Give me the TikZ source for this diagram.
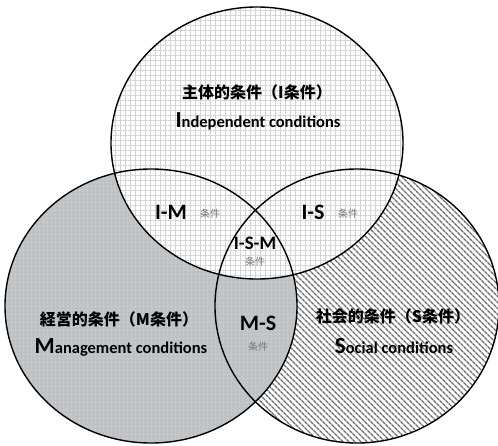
\documentclass[tikz,border=0pt]{standalone}
\usepackage{fontspec}
\setmainfont{Carlito}
\newfontfamily\cjk{Noto Sans CJK JP}
\usetikzlibrary{shapes.geometric,patterns.meta}
\definecolor{mgray}{RGB}{192,195,198}
\definecolor{mdot}{RGB}{214,216,219}
\definecolor{gridc}{RGB}{212,212,212}
\definecolor{hatchc}{RGB}{110,110,110}
\definecolor{subc}{RGB}{120,120,120}
\tikzset{
  setcircle/.style={ellipse, inner sep=0pt, minimum width=#1},
  outline/.style={draw=black, line width=1.4pt},
  titlecjk/.style={font=\cjk\bfseries\fontsize{16}{16}\selectfont, inner sep=0pt},
  titleen/.style={font=\bfseries, inner sep=0pt},
  ovl/.style={font=\bfseries\fontsize{22}{22}\selectfont, inner sep=0pt},
  sub/.style={font=\cjk\fontsize{10}{10}\selectfont, text=subc, inner sep=0pt},
}
\newcommand{\capsz}{\fontsize{23}{23}\selectfont}
\newcommand{\lowsz}{\fontsize{16.5}{16.5}\selectfont}
\begin{document}
\begin{tikzpicture}[x=1pt,y=-1pt]
\useasboundingbox (0,0) rectangle (498,445);
% set S (hatched)
\node[setcircle=284pt, minimum height=274pt,
  preaction={fill=white},
  pattern={Lines[angle=-45,distance=4pt,line width=1.4pt]}, pattern color=hatchc]
  (S) at (357,306) {};
% set M (grey, dotted)
\node[setcircle=292pt, minimum height=274pt,
  preaction={fill=mgray},
  pattern={Dots[distance=4pt,radius=0.7pt]}, pattern color=mdot]
  (M) at (151,306) {};
% set I (white, grid)
\node[setcircle=292pt, minimum height=272pt,
  preaction={fill=white},
  pattern={Hatch[angle=0,distance=5pt,line width=0.8pt]}, pattern color=gridc]
  (I) at (257,143) {};
% outlines
\draw[outline] (S.center) ellipse [x radius=142pt, y radius=137pt];
\draw[outline] (M.center) ellipse [x radius=146pt, y radius=137pt];
\draw[outline] (I.center) ellipse [x radius=146pt, y radius=136pt];
% titles
\node[titlecjk] (It) at (257,92) {主体的条件（I条件）};
\node[titleen] (Ie) at (258,121) {{\capsz I}{\lowsz ndependent conditions}};
\node[titlecjk] (Mt) at (119,319) {経営的条件（M条件）};
\node[titleen] (Me) at (121,347) {{\capsz M}{\lowsz anagement conditions}};
\node[titlecjk] (St) at (393,316) {社会的条件（S条件）};
\node[titleen] (Se) at (394,346) {{\capsz S}{\lowsz ocial conditions}};
% overlap labels
\node[ovl] (IM) at (171,212) {I-M};
\node[sub] (IMs) at (210,214) {条件};
\node[ovl] (IS) at (313,212) {I-S};
\node[sub] (ISs) at (348,214) {条件};
\node[ovl, font=\bfseries\fontsize{19}{19}\selectfont] (ISM) at (255,243) {I-S-M};
\node[sub] (ISMs) at (255,262) {条件};
\node[ovl] (MS) at (258,323) {M-S};
\node[sub] (MSs) at (258,347) {条件};
\end{tikzpicture}
\end{document}
